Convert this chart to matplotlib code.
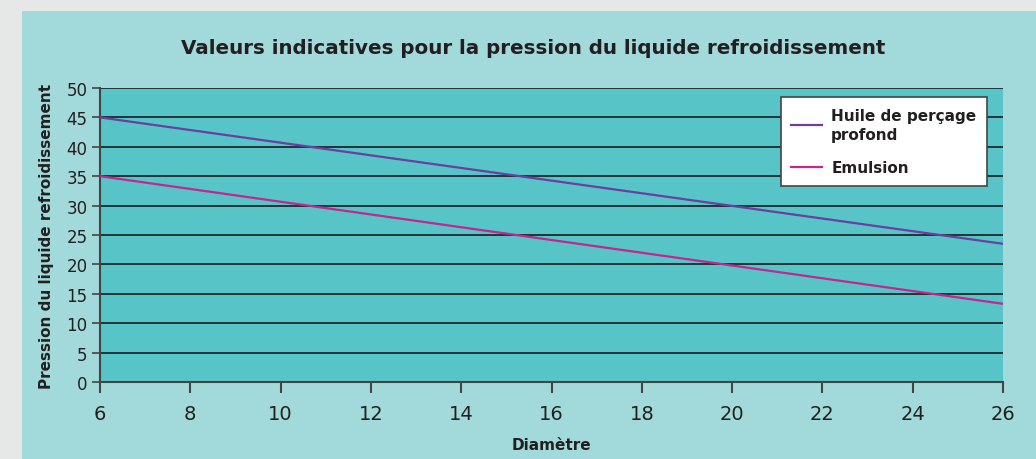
import matplotlib
matplotlib.use("Agg")
import matplotlib.pyplot as plt
from matplotlib.patches import Rectangle

diam = [6, 26]
huile = [45, 23.5]
emulsion = [35, 13.3]
xticks = [6, 8, 10, 12, 14, 16, 18, 20, 22, 24, 26]
yticks = [0, 5, 10, 15, 20, 25, 30, 35, 40, 45, 50]

plt.rcParams['font.family'] = ['DejaVu Sans']

fig = plt.figure(figsize=(10.36, 4.6), dpi=100)
fig.patch.set_facecolor('#e6e8e8')
bg = Rectangle((22/1036, 0), 1 - 22/1036, 1 - 12/460,
               transform=fig.transFigure, facecolor='#a2dadb',
               edgecolor='none', zorder=-10)
fig.add_artist(bg)

ax = fig.add_axes([100/1036, 1 - 383/460, 903/1036, 294/460])
ax.set_zorder(5)
ax.set_facecolor('#57c5c8')
ax.plot(diam, huile, color='#6a3fa0', lw=1.6, label='Huile de perçage\nprofond', zorder=3)
ax.plot(diam, emulsion, color='#c3268f', lw=1.6, label='Emulsion', zorder=3)

ax.set_xlim(6, 26)
ax.set_ylim(0, 50)
ax.set_xticks(xticks)
ax.set_yticks(yticks)
ax.yaxis.grid(True, color='#1a1a1a', lw=1.2)
ax.set_axisbelow(True)
for s in ['top', 'right']:
    ax.spines[s].set_visible(False)
for s in ['left', 'bottom']:
    ax.spines[s].set_color('#444444')
    ax.spines[s].set_linewidth(1.5)
ax.tick_params(axis='y', direction='out', length=6, width=1.2, color='#444444',
               labelsize=12, labelcolor='#231f20', pad=3)
ax.tick_params(axis='x', direction='out', length=8, width=1.5, color='#444444',
               labelsize=14, labelcolor='#231f20', pad=8)

ax.set_xlabel('Diamètre', fontsize=11, fontweight='bold', color='#231f20', labelpad=10)
ax.set_ylabel('Pression du liquide refroidissement', fontsize=11, fontweight='bold',
              color='#231f20', labelpad=9)
fig.text(533/1036, 1 - 48/460, 'Valeurs indicatives pour la pression du liquide refroidissement',
         ha='center', va='center', fontsize=14.3, fontweight='bold', color='#231f20')

leg = ax.legend(loc='upper right', bbox_to_anchor=((987 - 100)/903, 1 - 9/294),
                borderaxespad=0, frameon=True, fancybox=False, fontsize=11,
                handlelength=2.0, handletextpad=0.6,
                borderpad=0.7, labelspacing=1.2, framealpha=1)
leg.get_frame().set_edgecolor('#444444')
leg.get_frame().set_linewidth(1.2)
for t in leg.get_texts():
    t.set_fontweight('bold')
    t.set_color('#231f20')
    t.set_linespacing(1.35)

fig.savefig('out.png', dpi=100, facecolor=fig.get_facecolor())
